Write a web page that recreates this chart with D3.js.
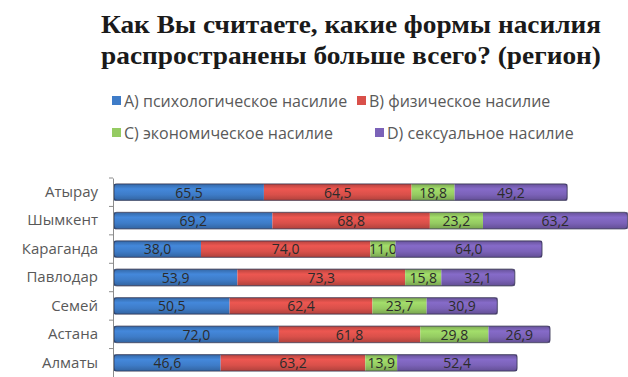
<!DOCTYPE html>
<html lang="ru">
<head>
<meta charset="UTF-8">
<title>Формы насилия по регионам</title>
<script src="https://d3js.org/d3.v7.min.js"></script>
<style>
  body { margin: 0; background: #fff; }
  svg { display: block; }
</style>
</head>
<body>
<div id="chart"></div>
<script>
// regions (top to bottom as drawn)
const regions = ["Атырау", "Шымкент", "Караганда", "Павлодар", "Семей", "Астана", "Алматы"];

// series values, one per region
const psych  = [65.5, 69.2, 38.0, 53.9, 50.5, 72.0, 46.6];
const phys   = [64.5, 68.8, 74.0, 73.3, 62.4, 61.8, 63.2];
const econ   = [18.8, 23.2, 11.0, 15.8, 23.7, 29.8, 13.9];
const sexual = [49.2, 63.2, 64.0, 32.1, 30.9, 26.9, 52.4];

const seriesNames = ["A) психологическое насилие", "B) физическое насилие",
                     "C) экономическое насилие", "D) сексуальное насилие"];
const colors = ["#3e7cc8", "#d9504a", "#95cb62", "#7b62b8"];
const titleLines = ["Как Вы считаете, какие формы насилия",
                    "распространены больше всего? (регион)"];

const W = 628, H = 377;
const keys = ["a", "b", "c", "d"];
const rows = regions.map((r, i) => ({ region: r, a: psych[i], b: phys[i], c: econ[i], d: sexual[i] }));

const svg = d3.select("#chart").append("svg")
  .attr("width", W).attr("height", H);

// gradients to mimic the cylinder-ish Excel bars
const defs = svg.append("defs");
colors.forEach((c, i) => {
  const g = defs.append("linearGradient").attr("id", "g" + i)
    .attr("x1", 0).attr("y1", 0).attr("x2", 0).attr("y2", 1);
  g.append("stop").attr("offset", "0%").attr("stop-color", d3.color(c).darker(0.5));
  g.append("stop").attr("offset", "30%").attr("stop-color", d3.color(c).brighter(0.25));
  g.append("stop").attr("offset", "65%").attr("stop-color", c);
  g.append("stop").attr("offset", "100%").attr("stop-color", d3.color(c).darker(0.6));
});

// title
svg.append("g").selectAll("text")
  .data(titleLines)
  .join("text")
  .attr("x", 101)
  .attr("y", (d, i) => 33 + i * 31)
  .attr("textLength", 500)
  .attr("lengthAdjust", "spacingAndGlyphs")
  .style("font-family", "'Liberation Serif', 'DejaVu Serif', serif")
  .style("font-weight", "bold")
  .style("font-size", "26px")
  .style("fill", "#1a1a1a")
  .text(d => d);

// legend
const legendPos = [[112, 101], [357, 101], [112, 133], [375, 133]];
const legend = svg.append("g").selectAll("g")
  .data(seriesNames)
  .join("g")
  .attr("transform", (d, i) => `translate(${legendPos[i][0]},${legendPos[i][1]})`);
legend.append("rect")
  .attr("x", 0).attr("y", -5).attr("width", 9).attr("height", 9)
  .attr("fill", (d, i) => colors[i]);
legend.append("text")
  .attr("x", 12).attr("y", 0).attr("dy", "0.35em")
  .style("font-family", "'Open Sans', 'Liberation Sans', sans-serif")
  .style("font-size", "16px")
  .style("fill", "#595959")
  .text(d => d);

// scales
const x = d3.scaleLinear().domain([0, 225]).range([114, 629]);
const y = d3.scaleBand().domain(regions).range([178, 377])
  .paddingInner(0.42).paddingOuter(0.21);

const stacked = d3.stack().keys(keys)(rows);

const layers = svg.append("g").selectAll("g")
  .data(stacked)
  .join("g");

layers.selectAll("rect")
  .data((s, i) => s.map(p => ({ p, i })))
  .join("rect")
  .attr("x", d => x(d.p[0]))
  .attr("y", d => y(d.p.data.region))
  .attr("width", d => x(d.p[1]) - x(d.p[0]))
  .attr("height", y.bandwidth())
  .attr("fill", d => `url(#g${d.i})`);

// dark outline around each whole bar, rounded right end
svg.append("g").selectAll("rect")
  .data(rows)
  .join("rect")
  .attr("x", x(0))
  .attr("y", d => y(d.region))
  .attr("width", d => x(d.a + d.b + d.c + d.d) - x(0))
  .attr("height", y.bandwidth())
  .attr("rx", 3)
  .attr("fill", "none")
  .attr("stroke", "#2e2e4a")
  .attr("stroke-opacity", 0.6)
  .attr("stroke-width", 1.3);

// value labels
layers.selectAll("text")
  .data(s => s)
  .join("text")
  .attr("x", d => (x(d[0]) + x(d[1])) / 2)
  .attr("y", d => y(d.data.region) + y.bandwidth() / 2)
  .attr("dy", "0.38em")
  .attr("text-anchor", "middle")
  .style("font-family", "'Open Sans', 'Liberation Sans', sans-serif")
  .style("font-size", "14px")
  .style("fill", "#2b2b2b")
  .text(d => (d[1] - d[0]).toFixed(1).replace(".", ","));

// category axis
const axis = svg.append("g")
  .attr("transform", `translate(${x(0) - 1},0)`)
  .call(d3.axisLeft(y).tickSize(0).tickPadding(15));
axis.select(".domain").attr("stroke", "#8c8c8c");
axis.selectAll("text")
  .style("font-family", "'Open Sans', 'Liberation Sans', sans-serif")
  .style("font-size", "15px")
  .style("fill", "#595959");
// small boundary ticks between categories
axis.selectAll(".sep")
  .data(regions)
  .join("line")
  .attr("class", "sep")
  .attr("x1", -4).attr("x2", 0)
  .attr("y1", d => y(d) - y.step() * y.paddingInner() / 2)
  .attr("y2", d => y(d) - y.step() * y.paddingInner() / 2)
  .attr("stroke", "#8c8c8c");
</script>
</body>
</html>
